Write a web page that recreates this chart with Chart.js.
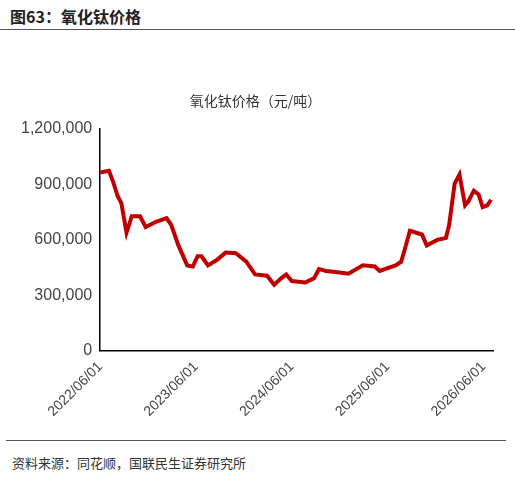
<!DOCTYPE html>
<html><head><meta charset="utf-8">
<script src="https://cdn.jsdelivr.net/npm/chart.js@4"></script>
<style>
body { margin:0; width:515px; height:478px; background:#fff; font-family:"Noto Sans CJK SC","Noto Sans",sans-serif; position:relative; overflow:hidden; }
#head { position:absolute; left:10px; top:4px; font-size:16px; font-weight:bold; color:#222; }
#topline { position:absolute; left:0; top:29px; width:515px; border-top:1px solid #555; }
#botline { position:absolute; left:6px; top:440px; width:500px; border-top:1px solid #555; }
#src { position:absolute; left:12px; top:453px; font-size:13px; color:#333; }
#wrap { position:absolute; left:0; top:87px; width:515px; height:336px; }
</style></head>
<body>
<div id="head">图63：氧化钛价格</div>
<div id="topline"></div>
<div id="wrap"><canvas id="c"></canvas></div>
<div id="botline"></div>
<div id="src">资料来源：同花顺，国联民生证券研究所</div>
<script>
// months since 2022/06/01
const months = [0,1.1,1.6,2.2,2.65,3.3,3.74,3.95,5.0,5.7,7,8.3,8.9,9.8,10.9,11.6,12.2,12.7,13.5,14.6,15.7,17,18.3,19.4,20.9,21.8,22.7,23.3,24,25.7,26.8,27.4,28.3,30,31.1,32.9,34.4,35,37,37.7,38.1,38.8,40.3,40.9,42.2,43.3,43.7,44.4,45,45.7,46.1,46.8,47.4,47.9,48.5,48.95];
const prices = [963000,973000,916000,835000,798000,638000,697000,727000,727000,668000,697000,717000,680000,569000,461000,455000,510000,510000,461000,490000,530000,527000,481000,412000,405000,356000,392000,412000,376000,368000,392000,441000,431000,422000,416000,461000,455000,431000,461000,481000,540000,648000,628000,569000,599000,609000,678000,904000,953000,786000,806000,865000,845000,776000,786000,816000];
const tickMonths = [0,12,24,36,48];
const tickLabels = ['2022/06/01','2023/06/01','2024/06/01','2025/06/01','2026/06/01'];

const pts = months.map((m, i) => ({ x: m, y: prices[i] }));

new Chart(document.getElementById('c'), {
  type: 'line',
  data: { datasets: [{ data: pts, borderColor: '#c00000', borderWidth: 4, pointRadius: 0, tension: 0 }] },
  options: {
    responsive: true, maintainAspectRatio: false, animation: false,
    layout: { padding: { left: 18, right: 22, top: 0, bottom: 0 } },
    plugins: {
      legend: { display: false },
      title: { display: true, text: '氧化钛价格（元/吨）', color: '#333', font: { size: 14, family: '"Noto Sans CJK SC"', weight: 'normal' }, padding: { top: 5, bottom: 20 } }
    },
    scales: {
      x: {
        type: 'linear', min: 0, max: 49.2,
        afterBuildTicks: ax => { ax.ticks = tickMonths.map(v => ({ value: v })); },
        ticks: { autoSkip: false, maxRotation: 45, minRotation: 45, color: '#444', font: { size: 14 },
          callback: (v) => tickLabels[tickMonths.indexOf(v)] },
        grid: { display: false, drawTicks: true, tickLength: 5, tickColor: '#000' },
        border: { color: '#000', width: 1.5 }
      },
      y: {
        min: 0, max: 1200000,
        ticks: { stepSize: 300000, color: '#444', font: { size: 16 }, callback: v => v.toLocaleString('en-US') },
        grid: { display: false, tickLength: 5, tickColor: '#000' },
        border: { color: '#000', width: 1.5 }
      }
    }
  }
});
</script>
</body></html>
